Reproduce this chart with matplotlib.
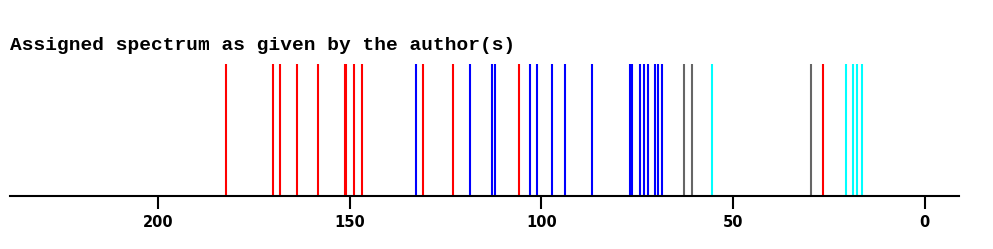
import matplotlib
matplotlib.use("Agg")
import matplotlib.pyplot as plt

# peak positions, grouped by assignment colour
red_peaks = [182.2, 170.0, 168.2, 163.8, 158.3, 151.4, 151.0, 148.9, 146.8,
             130.8, 123.1, 105.8, 26.4]
blue_peaks = [132.7, 118.6, 112.9, 112.0, 103.0, 101.1, 97.3, 93.8, 86.7,
              76.8, 76.4, 74.2, 73.3, 72.3, 70.3, 69.5, 68.4]
gray_peaks = [62.8, 60.8, 29.6]
cyan_peaks = [55.6, 20.5, 18.6, 17.7, 16.4]
ticks = [200, 150, 100, 50, 0]

fig = plt.figure(figsize=(9.93, 2.49), dpi=100)
ax = fig.add_axes([0.0101, 0.2129, 0.9557, 0.5301])

for peaks, col in [(red_peaks, "#ff0000"), (blue_peaks, "#0000ff"),
                   (gray_peaks, "#666666"), (cyan_peaks, "#00ffff")]:
    ax.vlines(peaks, 0, 1, colors=col, linewidth=1.5)

ax.set_xlim(238.7, -9.0)
ax.set_ylim(0, 1)
for s in ["top", "left", "right"]:
    ax.spines[s].set_visible(False)
ax.spines["bottom"].set_linewidth(1.5)
ax.set_yticks([])
ax.set_xticks(ticks)
ax.set_xticklabels([str(t) for t in ticks], fontsize=10.5, fontweight="bold",
                   family="DejaVu Sans")
ax.tick_params(axis="x", length=9, width=1.5, pad=5)

fig.text(0.0101, 0.799, "Assigned spectrum as given by the author(s)",
         family="Liberation Mono", fontweight="bold", fontsize=14,
         ha="left", va="baseline")

fig.savefig("out.png", dpi=100)
